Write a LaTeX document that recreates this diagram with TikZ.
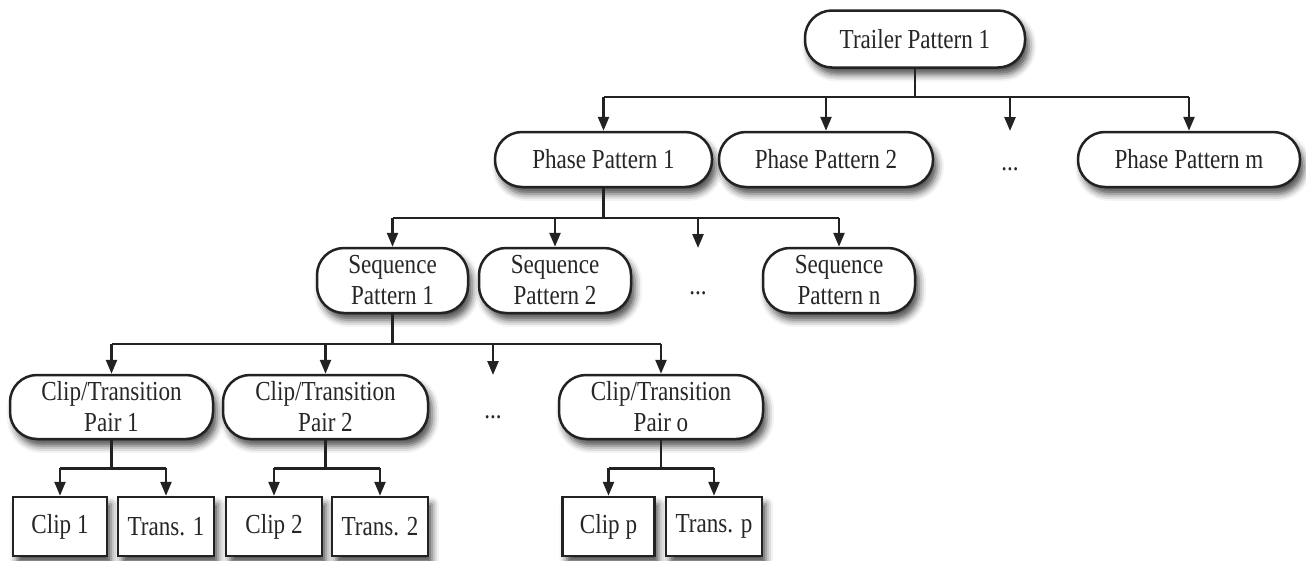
\documentclass[tikz,border=0pt]{standalone}
\usepackage{fontspec}
\setmainfont[FakeStretch=0.84]{Liberation Serif}
\usetikzlibrary{arrows.meta,shadows.blur}

\definecolor{ink}{HTML}{222222}
\definecolor{txt}{HTML}{262626}

\tikzset{
  base/.style={draw=ink, line width=2.5pt, fill=white, text=txt, inner sep=0pt,
    align=center, font=\fontsize{27.5}{31}\selectfont,
    blur shadow={shadow xshift=4pt, shadow yshift=-7pt, shadow blur radius=7pt, shadow opacity=70}},
  pill/.style={base, rounded corners=27pt},
  leafbox/.style={base, minimum height=59pt},
  gap/.style={text=txt, inner sep=0pt, font=\fontsize{27.5}{31}\selectfont},
  wire/.style={draw=ink, line width=2.5pt},
  feed/.style={wire, -{Triangle[length=14pt,width=11pt]}},
}

\begin{document}
\begin{tikzpicture}[x=1pt,y=-1pt]
\useasboundingbox (0,0) rectangle (1306,560);

% level 0
\node[pill, minimum width=220pt, minimum height=57pt] (trailer) at (915,39) {Trailer Pattern 1};

% level 1: phases
\node[pill, minimum width=217pt, minimum height=55pt] (ph1) at (603.5,159.5) {Phase Pattern 1};
\node[pill, minimum width=214pt, minimum height=55pt] (ph2) at (826,159.5) {Phase Pattern 2};
\node[gap, anchor=base] (phdots) at (1010,170) {...};
\coordinate (phdotsin) at (1010,131);
\node[pill, minimum width=222pt, minimum height=55pt] (phm) at (1189,159.5) {Phase Pattern m};

% level 2: sequences
\node[pill, minimum width=151pt, minimum height=65pt] (sq1) at (392.5,280.5) {Sequence\\Pattern 1};
\node[pill, minimum width=152pt, minimum height=65pt] (sq2) at (555,280.5) {Sequence\\Pattern 2};
\node[gap, anchor=base] (sqdots) at (698,294) {...};
\coordinate (sqdotsin) at (698,248);
\node[pill, minimum width=152pt, minimum height=65pt] (sqn) at (839,280.5) {Sequence\\Pattern n};

% level 3: clip/transition pairs
\node[pill, minimum width=203pt, minimum height=64pt] (cp1) at (111.5,407) {Clip/Transition\\Pair 1};
\node[pill, minimum width=205pt, minimum height=64pt] (cp2) at (325.5,407) {Clip/Transition\\Pair 2};
\node[gap, anchor=base] (cpdots) at (493,418) {...};
\coordinate (cpdotsin) at (493,375);
\node[pill, minimum width=204pt, minimum height=64pt] (cpo) at (661,407) {Clip/Transition\\Pair o};

% level 4: clips and transitions
\node[leafbox, minimum width=94pt] (cl1) at (60,526.5) {Clip 1};
\node[leafbox, minimum width=96pt] (tr1) at (166,526.5) {Trans. 1};
\node[leafbox, minimum width=96pt] (cl2) at (274,526.5) {Clip 2};
\node[leafbox, minimum width=96pt] (tr2) at (380,526.5) {Trans. 2};
\node[leafbox, minimum width=92pt] (clp) at (608.5,526.5) {Clip p};
\node[leafbox, minimum width=96pt] (trp) at (714,526.5) {Trans. p};

% trailer -> phases
\coordinate (b0) at (915,97);
\draw[wire] (trailer.south) -- (b0);
\draw[wire] (ph1.north |- b0) -- (phm.north |- b0);
\foreach \c in {ph1,ph2,phm} \draw[feed] (\c.north |- b0) -- (\c.north);
\draw[feed] (phdotsin |- b0) -- (phdotsin);

% phase 1 -> sequences
\coordinate (b1) at (603.5,218);
\draw[wire] (ph1.south) -- (b1);
\draw[wire] (sq1.north |- b1) -- (sqn.north |- b1);
\foreach \c in {sq1,sq2,sqn} \draw[feed] (\c.north |- b1) -- (\c.north);
\draw[feed] (sqdotsin |- b1) -- (sqdotsin);

% sequence 1 -> pairs
\coordinate (b2) at (392.5,344);
\draw[wire] (sq1.south) -- (b2);
\draw[wire] (cp1.north |- b2) -- (cpo.north |- b2);
\foreach \c in {cp1,cp2,cpo} \draw[feed] (\c.north |- b2) -- (\c.north);
\draw[feed] (cpdotsin |- b2) -- (cpdotsin);

% pairs -> clip and transition
\foreach \p/\a/\b in {cp1/cl1/tr1, cp2/cl2/tr2, cpo/clp/trp}{
  \coordinate (bb) at ($(\p.south)+(0,28)$);
  \draw[wire] (\p.south) -- (bb);
  \draw[wire] (\a.north |- bb) -- (\b.north |- bb);
  \draw[feed] (\a.north |- bb) -- (\a.north);
  \draw[feed] (\b.north |- bb) -- (\b.north);
}
\end{tikzpicture}
\end{document}
